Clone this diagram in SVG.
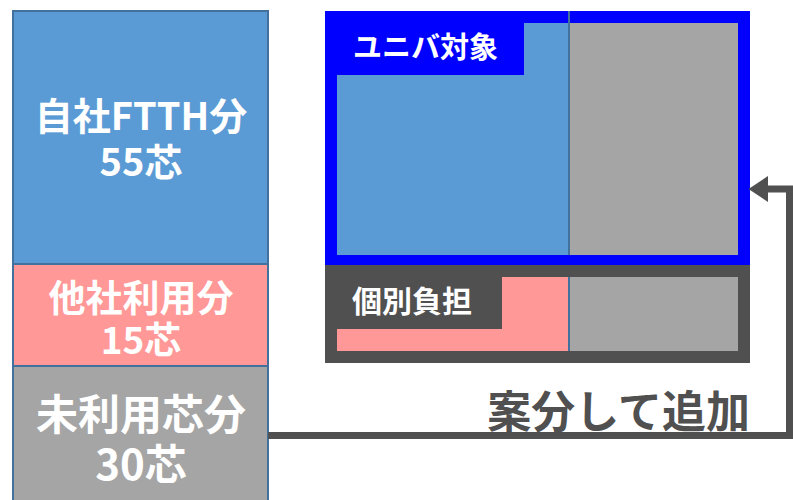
<svg xmlns="http://www.w3.org/2000/svg" width="793" height="500" viewBox="0 0 793 500">
  <style>
    .lbl { font-family: "Noto Sans CJK JP", "Liberation Sans", sans-serif; font-weight: bold; fill: #ffffff; }
    .col { stroke: #41719C; stroke-width: 2; }
    .blue { fill: #5B9BD5; }
    .pink { fill: #FF9896; }
    .gray { fill: #A5A5A5; }
    .conn { fill: none; stroke: #505050; stroke-width: 7; }
  </style>
  <defs>
    <marker id="arrowHead" markerUnits="userSpaceOnUse" markerWidth="20" markerHeight="26" refX="0" refY="12" orient="auto" viewBox="0 0 18 24">
      <path d="M0,0 L18,12 L0,24 Z" fill="#505050"/>
    </marker>
  </defs>
  <rect width="793" height="500" fill="#ffffff"/>

  <!-- core breakdown column -->
  <g id="own-ftth">
    <rect class="blue col" x="13" y="11" width="255" height="253"/>
    <text class="lbl" font-size="38" text-anchor="middle"><tspan x="141" y="130">自社FTTH分</tspan><tspan x="141" y="176">55芯</tspan></text>
  </g>
  <g id="other-carriers">
    <rect class="pink col" x="13" y="264" width="255" height="102"/>
    <text class="lbl" font-size="37" text-anchor="middle"><tspan x="141" y="312">他社利用分</tspan><tspan x="141" y="354">15芯</tspan></text>
  </g>
  <g id="unused">
    <rect class="gray col" x="13" y="366" width="255" height="140"/>
    <text class="lbl" font-size="42" text-anchor="middle"><tspan x="141" y="430">未利用芯分</tspan><tspan x="141" y="480">30芯</tspan></text>
  </g>

  <!-- universal service panel -->
  <g id="universal">
    <rect x="325" y="11" width="425" height="254" fill="#0000FF"/>
    <rect class="blue" x="337" y="23" width="231" height="232"/>
    <rect class="gray" x="570" y="23" width="168" height="232"/>
    <line x1="569" y1="11" x2="569" y2="255" stroke="#41719C" stroke-width="2"/>
    <rect x="325" y="11" width="199" height="64" fill="#0000FF"/>
    <text class="lbl" x="353" y="58" font-size="29">ユニバ対象</text>
  </g>

  <!-- individually borne panel -->
  <g id="individual">
    <rect x="325" y="265" width="425" height="98" fill="#505050"/>
    <rect class="pink" x="337" y="277" width="231" height="74"/>
    <rect class="gray" x="570" y="277" width="168" height="74"/>
    <line x1="569" y1="277" x2="569" y2="351" stroke="#41719C" stroke-width="2"/>
    <rect x="325" y="265" width="177" height="64" fill="#505050"/>
    <text class="lbl" x="352" y="312" font-size="30">個別負担</text>
  </g>

  <!-- allocation connector -->
  <g id="connectors">
    <path class="conn" d="M268,435.5 H789.5 V189 H768" marker-end="url(#arrowHead)"/>
    <text x="750" y="428" font-family="Noto Sans CJK JP, Liberation Sans, sans-serif" font-weight="bold" font-size="44" fill="#505050" text-anchor="end">案分して追加</text>
  </g>
</svg>
